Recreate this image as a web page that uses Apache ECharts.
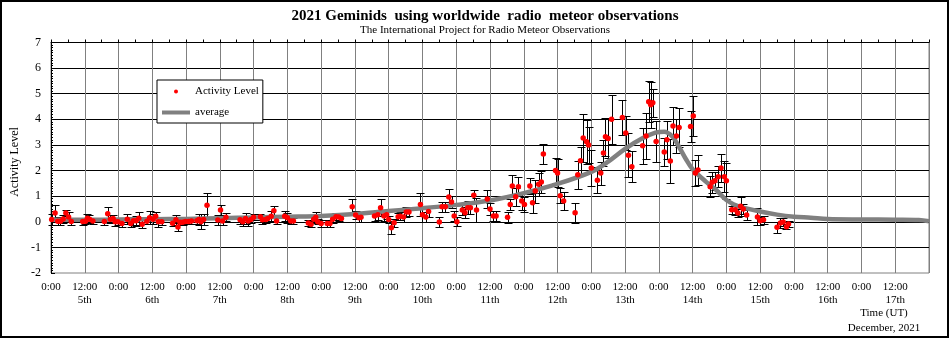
<!DOCTYPE html>
<html>
<head>
<meta charset="utf-8">
<script src="https://cdn.jsdelivr.net/npm/echarts@6/dist/echarts.min.js"></script>
<style>
  html, body { margin: 0; padding: 0; background: #fff; }
  #chart { width: 950px; height: 339px; }
</style>
</head>
<body>
<div id="chart"></div>
<script>
// Observation times, decimal day of December 2021 (UT)
const obsTime = [
  5.01, 5.06, 5.10, 5.14, 5.18, 5.22, 5.26, 5.30, 5.47, 5.51, 5.54, 5.57, 5.62, 5.79, 5.84, 5.88, 5.92, 5.95, 5.99,
  6.05, 6.13, 6.18, 6.22, 6.26, 6.30, 6.35, 6.42, 6.46, 6.51, 6.55, 6.59, 6.64, 6.80, 6.85, 6.88, 6.91, 6.95, 6.99,
  7.04, 7.08, 7.16, 7.19, 7.22, 7.26, 7.31, 7.47, 7.51, 7.54, 7.59, 7.80, 7.84, 7.88, 7.92, 7.96,
  8.00, 8.10, 8.13, 8.18, 8.21, 8.26, 8.30, 8.34, 8.46, 8.50, 8.55, 8.59, 8.81, 8.85, 8.89, 8.92, 8.95,
  9.00, 9.09, 9.13, 9.17, 9.22, 9.26, 9.30, 9.46, 9.51, 9.56, 9.59, 9.79, 9.84, 9.88, 9.93, 9.97,
  10.00, 10.04, 10.08, 10.14, 10.17, 10.22, 10.26, 10.30, 10.47, 10.50, 10.55, 10.59, 10.75, 10.79, 10.84, 10.89, 10.93, 10.97,
  11.01, 11.09, 11.13, 11.17, 11.21, 11.26, 11.30, 11.46, 11.50, 11.55, 11.59, 11.76, 11.80, 11.83, 11.88, 11.92, 11.97,
  12.01, 12.09, 12.13, 12.17, 12.22, 12.26, 12.29, 12.47, 12.50, 12.54, 12.59, 12.76, 12.80, 12.84, 12.88, 12.93, 12.96,
  13.00, 13.09, 13.14, 13.18, 13.21, 13.25, 13.30, 13.46, 13.51, 13.55, 13.60, 13.76, 13.81, 13.85, 13.88, 13.91, 13.96,
  14.08, 14.12, 14.17, 14.21, 14.26, 14.30, 14.47, 14.51, 14.54, 14.58, 14.76, 14.79, 14.83, 14.88, 14.92, 14.97,
  15.00, 15.08, 15.13, 15.17, 15.21, 15.25, 15.30, 15.46, 15.50, 15.55, 15.75, 15.80, 15.84, 15.89, 15.92
];
// Activity level at each observation time
const obsLevel = [
  0.09, 0.34, 0.02, 0.02, 0.11, 0.34, 0.19, 0.01, 0.01, 0.02, 0.14, 0.10, 0.03, 0.01, 0.31, 0.10, 0.13, 0.00, 0.00,
  -0.07, 0.10, -0.07, 0.04, 0.04, 0.14, -0.10, 0.02, 0.16, 0.10, 0.22, 0.00, 0.00, -0.06, 0.08, -0.20, -0.02, -0.02, 0.01,
  0.01, 0.03, 0.04, 0.09, 0.00, 0.09, 0.65, 0.07, 0.46, 0.03, 0.18, 0.08, 0.00, 0.13, 0.03, 0.09,
  0.18, 0.20, 0.08, 0.09, 0.13, 0.22, 0.43, 0.03, 0.22, 0.16, 0.03, 0.03, -0.05, -0.10, 0.10, 0.18, 0.00,
  -0.07, -0.07, -0.07, 0.10, 0.20, 0.19, 0.13, 0.59, 0.26, 0.16, 0.18, 0.23, 0.27, 0.55, 0.23, 0.27,
  0.09, -0.23, -0.04, 0.20, 0.22, 0.19, 0.38, 0.38, 0.67, 0.27, 0.19, 0.40, -0.01, 0.59, 0.59, 0.97, 0.77, 0.23,
  0.00, 0.46, 0.35, 0.55, 0.55, 1.04, 0.46, 0.89, 0.50, 0.23, 0.23, 0.18, 0.67, 1.40, 0.98, 1.37, 0.81,
  0.67, 1.40, 0.74, 1.20, 1.47, 1.55, 2.65, 2.00, 1.90, 1.02, 0.81, 0.35, 1.84, 2.38, 3.27, 3.12, 3.00,
  2.10, 1.62, 1.90, 2.69, 3.32, 3.25, 4.00, 4.07, 3.47, 2.60, 2.15, 2.97, 3.35, 4.69, 4.57, 4.65, 3.13,
  2.72, 3.20, 2.37, 3.74, 3.35, 3.68, 3.72, 4.13, 1.90, 2.02, 1.37, 1.54, 1.60, 1.76, 2.10, 1.76,
  1.60, 0.47, 0.47, 0.34, 0.61, 0.50, 0.26, 0.19, 0.04, 0.08, -0.21, -0.05, -0.01, -0.19, -0.09
];
// Error (one sigma) of each activity level
const obsError = [
  0.20, 0.30, 0.15, 0.15, 0.15, 0.12, 0.20, 0.15, 0.12, 0.12, 0.15, 0.15, 0.12, 0.12, 0.25, 0.15, 0.15, 0.15, 0.12,
  0.12, 0.20, 0.15, 0.15, 0.20, 0.25, 0.15, 0.12, 0.25, 0.20, 0.15, 0.20, 0.12, 0.12, 0.20, 0.15, 0.12, 0.12, 0.10,
  0.10, 0.10, 0.12, 0.20, 0.30, 0.20, 0.48, 0.20, 0.18, 0.15, 0.15, 0.15, 0.15, 0.20, 0.20, 0.12,
  0.12, 0.12, 0.15, 0.15, 0.15, 0.20, 0.20, 0.12, 0.20, 0.20, 0.12, 0.12, 0.12, 0.12, 0.15, 0.20, 0.10,
  0.12, 0.12, 0.12, 0.15, 0.15, 0.15, 0.15, 0.30, 0.15, 0.15, 0.20, 0.20, 0.20, 0.32, 0.20, 0.15,
  0.15, 0.25, 0.15, 0.15, 0.15, 0.20, 0.20, 0.15, 0.45, 0.27, 0.20, 0.22, 0.18, 0.20, 0.20, 0.30, 0.22, 0.20,
  0.17, 0.20, 0.22, 0.25, 0.25, 0.22, 0.45, 0.35, 0.25, 0.20, 0.20, 0.22, 0.22, 0.42, 0.35, 0.37, 0.35,
  0.30, 0.30, 0.38, 0.45, 0.45, 0.42, 0.40, 0.50, 0.55, 0.30, 0.35, 0.38, 0.55, 0.55, 0.92, 0.85, 0.70,
  0.70, 0.50, 0.45, 0.50, 0.75, 0.75, 0.95, 0.70, 0.65, 0.85, 0.60, 0.70, 0.90, 0.80, 0.90, 0.55, 0.80,
  0.55, 0.75, 0.85, 0.76, 0.65, 0.75, 0.60, 0.80, 0.50, 0.60, 0.40, 0.40, 0.35, 0.40, 0.55, 0.60,
  0.70, 0.15, 0.20, 0.15, 0.37, 0.20, 0.20, 0.33, 0.15, 0.15, 0.22, 0.20, 0.15, 0.10, 0.12
];
// Smoothed average activity profile
const avgTime = [
  5.0, 5.5, 6.0, 6.5, 7.0, 7.5, 8.0, 8.5, 9.0, 9.5, 10.0, 10.5, 11.0, 11.5, 12.0, 12.5, 13.0, 13.25, 13.5, 13.75,
  13.95, 14.08, 14.2, 14.3, 14.4, 14.5, 14.7, 14.85, 15.0, 15.15, 15.25, 15.5, 15.75, 16.0, 16.25, 16.5, 17.0, 17.5, 17.85, 18.0
];
const avgLevel = [
  0.08, 0.08, 0.09, 0.10, 0.11, 0.14, 0.17, 0.20, 0.23, 0.30, 0.42, 0.53, 0.66, 0.83, 1.12, 1.48, 1.95, 2.35, 2.85, 3.25,
  3.48, 3.52, 3.33, 2.92, 2.45, 2.05, 1.56, 1.24, 0.85, 0.63, 0.55, 0.40, 0.28, 0.20, 0.16, 0.11, 0.09, 0.08, 0.07, 0.02
];
// Axis tick labels
const hourLabels = ['0:00', '12:00'];
const daySuffix = 'th';
const firstDay = 5, lastDay = 18;

const serif = '"Liberation Serif", "DejaVu Serif", serif';

const errorData = obsTime.map((t, i) => [t, obsLevel[i], obsError[i]]);
const pointData = obsTime.map((t, i) => [t, obsLevel[i]]);
const avgData = avgTime.map((t, i) => [t, avgLevel[i]]);

const chart = echarts.init(document.getElementById('chart'), null, { renderer: 'canvas' });

const crisp = v => Math.round(v) + 0.5;

chart.setOption({
  animation: false,
  backgroundColor: '#ffffff',
  grid: {
    left: 51, right: 21, top: 42.5, bottom: 66,
    show: true, borderColor: '#808080', borderWidth: 1, backgroundColor: 'transparent'
  },
  legend: {
    left: 157, top: 80,
    orient: 'vertical',
    backgroundColor: '#ffffff',
    borderColor: '#000000', borderWidth: 1, borderRadius: 0,
    padding: [5, 4, 4, 5],
    itemGap: 8,
    itemWidth: 28, itemHeight: 4,
    selectedMode: false,
    textStyle: { fontFamily: serif, fontSize: 11, color: '#000', lineHeight: 13 },
    data: [
      { name: 'Activity Level', icon: 'circle', itemStyle: { color: '#ff0000' } },
      { name: 'average', icon: 'rect', itemStyle: { color: '#808080' } }
    ]
  },
  xAxis: [
    {
      type: 'value', min: firstDay, max: lastDay, interval: 0.5,
      axisLine: { show: false },
      axisTick: { show: false },
      splitLine: { show: true, lineStyle: { color: '#808080', width: 1 } },
      axisLabel: {
        margin: 8,
        fontFamily: serif, fontSize: 11, color: '#000', lineHeight: 13,
        formatter: v => {
          if (v >= lastDay) return '';
          const frac = Math.round((v % 1) * 2);
          return frac === 0 ? hourLabels[0] : hourLabels[1] + '\n' + Math.floor(v) + daySuffix;
        }
      }
    },
    {
      type: 'value', min: firstDay, max: lastDay, interval: 0.25, position: 'top',
      axisLine: { show: true, onZero: true, lineStyle: { color: '#000', width: 1 } },
      axisTick: { show: true, inside: false, length: 3, lineStyle: { color: '#000' } },
      axisLabel: { show: false },
      splitLine: { show: false }
    }
  ],
  yAxis: {
    type: 'value', min: -2, max: 7, interval: 1,
    axisLine: { show: true, onZero: false, lineStyle: { color: '#000', width: 1 } },
    axisTick: { show: true, inside: true, length: 4, lineStyle: { color: '#000' } },
    minorTick: { show: true, splitNumber: 10, length: 2, lineStyle: { color: '#000' } },
    splitLine: { show: true, showMinLine: false, showMaxLine: false, lineStyle: { color: '#000', width: 1 } },
    axisLabel: { margin: 10, fontFamily: serif, fontSize: 12, color: '#000' }
  },
  series: [
    {
      name: 'error',
      type: 'custom',
      xAxisIndex: 0,
      data: errorData,
      encode: { x: 0, y: 1 },
      z: 2,
      renderItem: (params, api) => {
        const t = api.value(0), v = api.value(1), e = api.value(2);
        const top = api.coord([t, v + e]);
        const bot = api.coord([t, v - e]);
        const x = crisp(top[0]);
        const y1 = crisp(top[1]), y2 = crisp(bot[1]);
        const w = 4;
        const style = { stroke: '#000', lineWidth: 1 };
        return {
          type: 'group',
          children: [
            { type: 'line', shape: { x1: x, y1: y1, x2: x, y2: y2 }, style },
            { type: 'line', shape: { x1: x - w, y1: y1, x2: x + w, y2: y1 }, style },
            { type: 'line', shape: { x1: x - w, y1: y2, x2: x + w, y2: y2 }, style }
          ]
        };
      }
    },
    {
      name: 'average',
      type: 'line',
      xAxisIndex: 0,
      data: avgData,
      smooth: 0.35,
      symbol: 'none',
      z: 3,
      lineStyle: { color: '#808080', width: 4.5 },
      itemStyle: { color: '#808080' }
    },
    {
      name: 'Activity Level',
      type: 'scatter',
      xAxisIndex: 0,
      data: pointData,
      symbol: 'circle',
      symbolSize: 5.5,
      z: 4,
      itemStyle: { color: '#ff0000', opacity: 1 }
    }
  ],
  graphic: [
    {
      type: 'rect', silent: true, z: 100,
      shape: { x: 1, y: 1, width: 947, height: 336 },
      style: { fill: 'none', stroke: '#000', lineWidth: 2 }
    },
    {
      type: 'text', x: 485, y: 16,
      style: {
        text: '2021 Geminids  using worldwide  radio  meteor observations',
        font: 'bold 15px ' + serif, fill: '#000',
        textAlign: 'center', textVerticalAlign: 'middle'
      }
    },
    {
      type: 'text', x: 485, y: 30,
      style: {
        text: 'The International Project for Radio Meteor Observations',
        font: '11px ' + serif, fill: '#000',
        textAlign: 'center', textVerticalAlign: 'middle'
      }
    },
    {
      type: 'text', x: 15, y: 162, rotation: Math.PI / 2,
      style: {
        text: 'Activity Level',
        font: '12px ' + serif, fill: '#000',
        textAlign: 'center', textVerticalAlign: 'middle'
      }
    },
    {
      type: 'text', x: 884, y: 313,
      style: {
        text: 'Time (UT)',
        font: '11px ' + serif, fill: '#000',
        textAlign: 'center', textVerticalAlign: 'middle'
      }
    },
    {
      type: 'text', x: 884, y: 328,
      style: {
        text: 'December, 2021',
        font: '11px ' + serif, fill: '#000',
        textAlign: 'center', textVerticalAlign: 'middle'
      }
    }
  ]
});
</script>
</body>
</html>
